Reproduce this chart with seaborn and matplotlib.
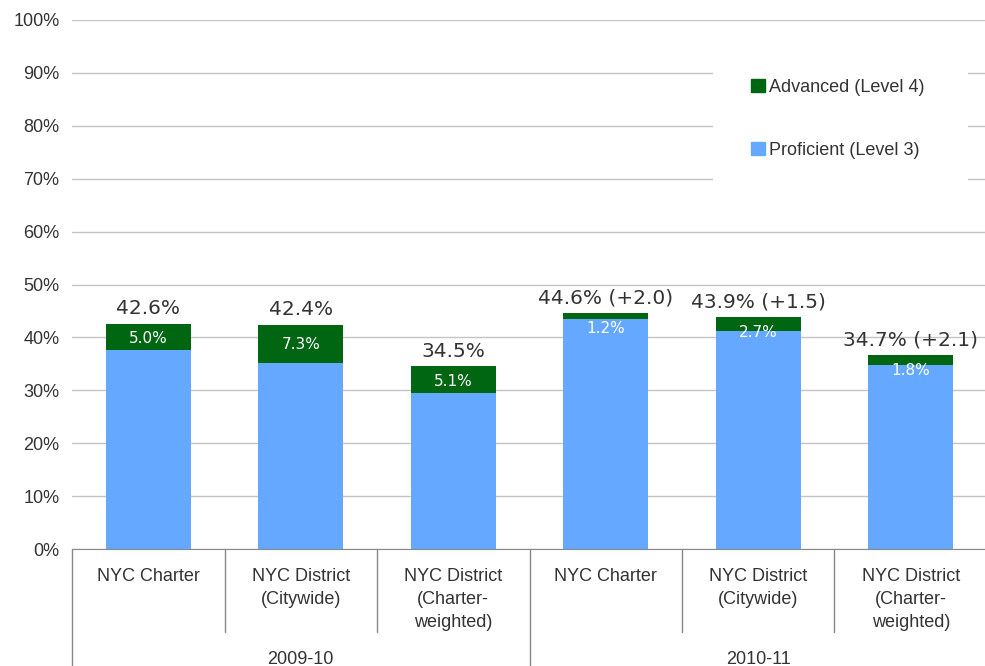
import numpy as np
import pandas as pd
import matplotlib.pyplot as plt
import matplotlib.transforms as mtransforms
from matplotlib.patches import Patch, Rectangle
import seaborn as sns

# data
years = ["2009-10", "2009-10", "2009-10", "2010-11", "2010-11", "2010-11"]
groups = ["NYC Charter", "NYC District\n(Citywide)", "NYC District\n(Charter-\nweighted)"] * 2
proficient = [37.6, 35.1, 29.4, 43.4, 41.2, 34.8]
advanced = [5.0, 7.3, 5.1, 1.2, 2.7, 1.8]
total_labels = ["42.6%", "42.4%", "34.5%", "44.6% (+2.0)", "43.9% (+1.5)", "34.7% (+2.1)"]
year_names = ["2009-10", "2010-11"]
y_ticks = list(range(0, 101, 10))

GREEN = "#006612"
BLUE = "#64A9FF"
TXT = "#333333"

sns.set_style("white")
plt.rcParams["font.family"] = ["Liberation Sans", "DejaVu Sans"]

df = pd.DataFrame({"year": years, "group": groups,
                   "proficient": proficient, "advanced": advanced})
df["key"] = df["year"] + " " + df["group"]
df["total"] = df["proficient"] + df["advanced"]

fig = plt.figure(figsize=(9.85, 6.66), dpi=100)
ax = fig.add_axes([72 / 985, 117 / 666, 915 / 985, 529 / 666])

# stacked bars: totals in green, proficient part drawn over them in blue
sns.barplot(data=df, x="key", y="total", order=df["key"], color=GREEN,
            saturation=1, width=0.56, linewidth=0, errorbar=None, ax=ax)
sns.barplot(data=df, x="key", y="proficient", order=df["key"], color=BLUE,
            saturation=1, width=0.56, linewidth=0, errorbar=None, ax=ax)

ax.set_xlim(-0.5, 5.5)
ax.set_ylim(0, 100)
ax.set_yticks(y_ticks)
ax.set_yticklabels([f"{v}%" for v in y_ticks], fontsize=13, color=TXT)
ax.set_xticks(range(len(groups)))
ax.set_xticklabels(groups, fontsize=13, color=TXT, linespacing=1.46)
ax.tick_params(axis="x", length=0, pad=14)
ax.tick_params(axis="y", length=0, pad=9)
ax.set_xlabel("")
ax.set_ylabel("")

ax.yaxis.grid(True, color="#c4c4c4", lw=1)
ax.set_axisbelow(True)
for s in ["top", "right", "left"]:
    ax.spines[s].set_visible(False)
ax.spines["bottom"].set_color("#888888")

# category separators and year labels below the axis
trans = mtransforms.blended_transform_factory(ax.transData, ax.transAxes)
for i in range(len(groups) + 1):
    ybot = -0.222 if i % 3 == 0 else -0.157
    ax.plot([i - 0.5, i - 0.5], [0, ybot], transform=trans, color="#888888",
            lw=1, clip_on=False)
for j, name in enumerate(year_names):
    ax.text(j * 3 + 1, -0.208, name, transform=trans, ha="center", va="center",
            fontsize=13, color=TXT)

# value labels
for i in range(len(groups)):
    tot = df["total"][i]
    adv = advanced[i]
    ax.annotate(total_labels[i], (i, tot), xytext=(0, 7), textcoords="offset points",
                ha="center", va="baseline", fontsize=14.5, color=TXT,
                family="DejaVu Sans")
    ax.text(i, tot - max(adv / 2, 2.9), f"{adv:.1f}%", ha="center", va="center",
            fontsize=11, color="white", family="DejaVu Sans")

# legend on a white patch that hides the gridlines
ax.add_patch(Rectangle((0.7005, 0.688), 0.279, 0.236, transform=ax.transAxes,
                       facecolor="white", edgecolor="none", zorder=1))
handles = [Patch(color=GREEN, label="Advanced (Level 4)"),
           Patch(color=BLUE, label="Proficient (Level 3)")]
leg = fig.legend(handles=handles, loc="upper left",
                 bbox_to_anchor=(751 / 985, 1 - 78.5 / 666), frameon=False,
                 fontsize=13, borderpad=0, borderaxespad=0, labelspacing=2.55,
                 handlelength=0.78, handleheight=0.78, handletextpad=0.22)
for t in leg.get_texts():
    t.set_color(TXT)

plt.savefig("out.png", dpi=100)
plt.close()
